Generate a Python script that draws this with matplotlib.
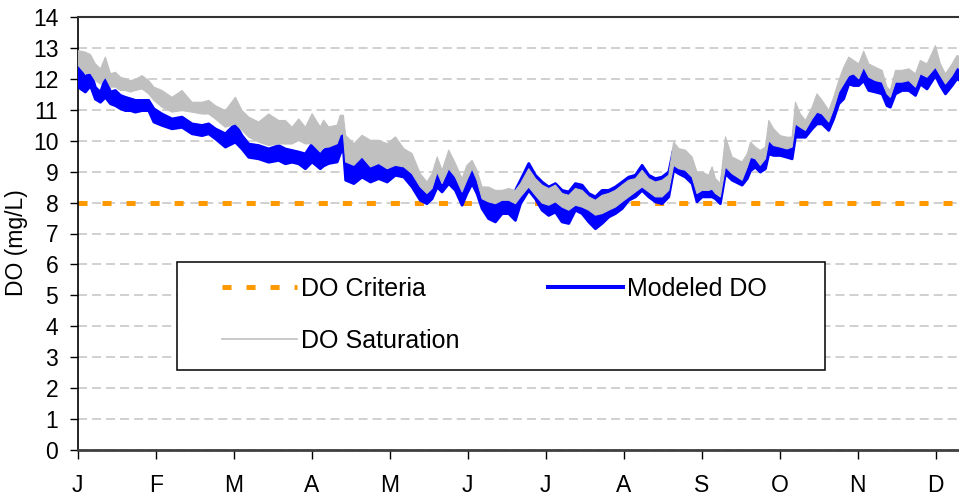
import matplotlib
matplotlib.use("Agg")
import matplotlib.pyplot as plt
from matplotlib.lines import Line2D
from matplotlib.patches import Rectangle

plt.rcParams['font.family'] = ['Liberation Sans', 'DejaVu Sans']
plt.rcParams['lines.scale_dashes'] = False

months = ['J', 'F', 'M', 'A', 'M', 'J', 'J', 'A', 'S', 'O', 'N', 'D']
do_criteria = 8.0

# day of year (band = daily low / high)
day = [0, 2.8, 4.8, 6.7, 8.7, 10.6, 12.6, 14.5, 16.5, 18.4, 20.4, 22.3, 24.9, 27.5,
       29.5, 32.7, 36.6, 40.5, 44.4, 48.3, 50.9, 53.5, 57.4, 61.3, 63.9, 66.5, 70.4,
       74.3, 78.2, 80.8, 83.4, 86.0, 88.6, 91.2, 94.4, 95.7, 97.7, 101.0, 102.2, 103.4,
       104.3, 107.5, 110.7, 114.0, 117.2, 120.5, 123.7, 127.0, 130.2, 133.4, 136.0,
       138.0, 140.0, 141.9, 144.5, 147.1, 149.7, 151.6, 153.6, 155.5, 157.5, 160.0,
       162.7, 165.3, 167.9, 170.5, 172.5, 175.7, 178.3, 180.9, 183.5, 186.1, 188.7,
       191.3, 193.9, 196.5, 199.1, 201.7, 204.3, 206.9, 209.5, 212.1, 214.7, 217.3,
       219.9, 222.5, 225.1, 227.7, 230.3, 232.2, 234.2, 236.8, 239.4, 241.3, 243.3,
       245.9, 247.2, 248.5, 250.4, 252.4, 255.0, 258.9, 260.9, 262.2, 264.1, 266.0,
       268.0, 269.3, 271.2, 273.8, 276.4, 278.4, 279.7, 281.6, 283.6, 286.2, 288.1,
       290.1, 292.7, 294.6, 296.6, 298.5, 300.5, 302.4, 304.4, 306.3, 308.3, 310.9,
       313.5, 315.4, 316.7, 318.7, 321.3, 323.9, 326.5, 328.4, 331.0, 334.3, 336.2,
       338.2, 340.8, 342.7, 345.0]

modeled_lo = [11.75, 11.59, 11.79, 11.36, 11.26, 11.42, 11.21, 11.15, 11.05, 10.99, 10.99,
              10.94, 10.99, 10.99, 10.62, 10.51, 10.40, 10.45, 10.24, 10.18, 10.24, 10.08,
              9.81, 9.97, 9.75, 9.48, 9.43, 9.32, 9.38, 9.27, 9.32, 9.27, 9.11, 9.33, 9.11,
              9.20, 9.28, 9.33, 9.60, 9.76, 8.74, 8.63, 8.84, 8.68, 8.79, 8.68, 8.90, 8.84,
              8.52, 8.09, 7.98, 8.14, 8.52, 8.36, 8.63, 8.41, 7.93, 8.31, 8.63, 8.31, 7.82,
              7.50, 7.39, 7.66, 7.66, 7.44, 7.98, 8.41, 8.14, 7.77, 7.60, 7.71, 7.39, 7.34,
              7.77, 7.66, 7.39, 7.17, 7.34, 7.55, 7.66, 7.82, 8.09, 8.20, 8.41, 8.20, 8.04,
              7.98, 8.20, 9.06, 8.95, 8.84, 8.63, 8.04, 8.20, 8.20, 8.20, 8.14, 7.98, 8.95,
              8.74, 8.58, 8.79, 9.05, 9.16, 9.00, 9.11, 9.59, 9.54, 9.54, 9.48, 9.43, 10.13,
              10.13, 10.13, 10.40, 10.56, 10.56, 10.35, 10.72, 11.21, 11.37, 11.85, 11.80,
              11.80, 11.96, 11.64, 11.59, 11.53, 11.15, 11.10, 11.53, 11.64, 11.64, 11.48,
              11.85, 11.69, 12.12, 11.80, 11.53, 11.80, 12.02, 11.90]

modeled_hi = [12.50, 12.05, 12.28, 11.74, 11.58, 12.05, 11.59, 11.64, 11.48, 11.42, 11.37,
              11.32, 11.32, 11.32, 11.05, 10.88, 10.72, 10.78, 10.56, 10.51, 10.56, 10.40,
              10.24, 10.56, 10.18, 9.91, 9.86, 9.75, 9.86, 9.75, 9.70, 9.65, 9.59, 9.92,
              9.65, 9.70, 9.81, 9.92, 10.20, 10.35, 9.33, 9.22, 9.55, 9.17, 9.28, 9.11, 9.22,
              9.17, 8.95, 8.52, 8.31, 8.47, 9.00, 8.63, 9.11, 8.84, 8.36, 8.74, 9.11, 8.74,
              8.20, 8.09, 7.98, 8.09, 8.09, 8.41, 8.74, 9.28, 8.90, 8.68, 8.52, 8.63, 8.41,
              8.36, 8.63, 8.58, 8.31, 8.20, 8.41, 8.41, 8.52, 8.68, 8.84, 8.90, 9.22, 8.90,
              8.79, 8.84, 9.01, 9.76, 9.55, 9.55, 9.28, 8.85, 8.84, 8.68, 8.70, 8.58, 8.41,
              9.55, 9.33, 9.17, 9.32, 9.65, 9.48, 9.27, 9.48, 10.13, 9.91, 9.81, 9.75, 9.86,
              10.67, 10.45, 10.35, 10.78, 10.99, 10.94, 10.67, 11.05, 11.64, 11.80, 12.12,
              12.12, 11.96, 12.50, 12.12, 11.96, 11.91, 11.53, 11.42, 11.91, 11.91, 11.96,
              11.75, 12.23, 12.07, 12.55, 12.18, 11.85, 12.18, 12.45, 12.30]

sat_lo = [12.45, 12.18, 12.20, 11.96, 11.85, 12.07, 11.75, 11.75, 11.64, 11.64, 11.59,
          11.64, 11.69, 11.53, 11.32, 11.10, 10.94, 10.99, 10.94, 10.88, 10.88, 10.72,
          10.45, 10.56, 10.35, 10.13, 9.97, 9.86, 9.91, 9.91, 9.91, 10.02, 9.91, 9.92,
          9.65, 9.80, 9.81, 9.92, 10.20, 10.25, 9.33, 9.22, 9.49, 9.17, 9.28, 9.11, 9.22,
          9.17, 8.95, 8.52, 8.31, 8.47, 9.00, 8.63, 9.11, 8.84, 8.36, 8.74, 9.11, 8.74,
          8.14, 8.04, 7.98, 8.09, 8.09, 7.98, 8.20, 8.52, 8.25, 8.00, 7.93, 8.04, 7.87,
          7.77, 7.93, 7.87, 7.77, 7.61, 7.66, 7.77, 7.87, 8.04, 8.20, 8.36, 8.52, 8.36,
          8.20, 8.20, 8.41, 9.22, 9.11, 9.06, 8.84, 8.31, 8.41, 8.41, 8.45, 8.31, 8.20,
          9.17, 8.95, 8.74, 9.16, 9.48, 9.43, 9.22, 9.43, 10.02, 9.86, 9.81, 9.75, 9.81,
          10.56, 10.45, 10.35, 10.72, 10.94, 10.88, 10.62, 11.05, 11.59, 11.85, 12.12,
          12.18, 12.02, 12.39, 12.07, 11.96, 11.91, 11.53, 11.42, 11.91, 11.91, 11.96,
          11.75, 12.18, 12.07, 12.39, 12.12, 11.85, 12.12, 12.39, 12.30]

sat_hi = [12.93, 12.88, 12.80, 12.50, 12.34, 12.72, 12.18, 12.23, 12.07, 12.02, 11.96,
          12.00, 12.12, 11.96, 11.75, 11.64, 11.42, 11.64, 11.26, 11.26, 11.32, 11.15,
          10.99, 11.42, 10.99, 10.78, 10.62, 10.88, 10.67, 10.67, 10.45, 10.72, 10.45,
          10.89, 10.46, 10.68, 10.46, 10.52, 10.84, 10.84, 10.19, 9.92, 10.19, 10.03,
          10.03, 9.92, 10.14, 9.76, 9.60, 8.95, 8.68, 8.95, 9.49, 9.06, 9.71, 9.28, 8.79,
          9.22, 9.38, 9.06, 8.52, 8.52, 8.41, 8.41, 8.47, 8.41, 8.63, 9.11, 8.79, 8.58,
          8.47, 8.58, 8.31, 8.25, 8.47, 8.41, 8.20, 8.09, 8.25, 8.31, 8.41, 8.58, 8.74,
          8.79, 9.06, 8.79, 8.68, 8.74, 8.90, 9.98, 9.76, 9.71, 9.49, 9.00, 9.00, 8.90,
          9.17, 8.79, 8.63, 10.14, 9.49, 9.33, 9.59, 9.97, 9.81, 9.70, 9.81, 10.67, 10.40,
          10.18, 10.13, 10.13, 11.26, 10.88, 10.67, 11.10, 11.53, 11.32, 10.99, 11.42,
          11.96, 12.39, 12.72, 12.61, 12.50, 12.91, 12.50, 12.39, 12.29, 11.75, 11.64,
          12.29, 12.29, 12.34, 12.18, 12.61, 12.50, 13.09, 12.50, 12.18, 12.50, 12.77,
          12.70]

fig = plt.figure(figsize=(9.59, 4.99), dpi=100)
# axis runs a full year; the picture is cut off on the right
ax = fig.add_axes([77.7 / 959, 49 / 499, 936 / 959, 433 / 499])

ax.axhline(do_criteria, color='#FF9900', lw=3.6, dashes=(6.5, 10.8), zorder=2.5)
ax.fill_between(day, modeled_lo, modeled_hi, color='#0000FF', lw=2.0, zorder=3)
ax.fill_between(day, sat_lo, sat_hi, color='#C0C0C0', lw=0.8, zorder=4)

ax.set_xlim(0, 365)
ax.set_ylim(0, 14)
ax.set_yticks(range(15))
ax.set_xticks([i * 365 / 12 for i in range(12)])
ax.set_xticklabels(months)
ax.grid(axis='y', color='#C8C8C8', lw=1.2, linestyle=(0, (6.5, 3.6)), zorder=1)
ax.set_axisbelow(True)
ax.tick_params(axis='x', length=6.5, width=1, pad=10.5, labelsize=16.5)
ax.tick_params(axis='y', length=6, width=1, pad=8, labelsize=16.5)

ax.spines['right'].set_visible(False)
ax.spines['top'].set_color('#333333')
ax.spines['top'].set_linewidth(1.5)
ax.spines['bottom'].set_color('#404040')
ax.spines['bottom'].set_linewidth(2)
ax.spines['left'].set_color('black')
ax.spines['left'].set_linewidth(1.2)

fig.text(17 / 959, 1 - 243 / 499, 'DO (mg/L)', rotation=90, ha='center', va='center',
         fontsize=16.5)

# legend box drawn separately so its padding matches
ax.add_patch(Rectangle((177 / 959, 129 / 499), 648 / 959, 108 / 499,
                       transform=fig.transFigure, facecolor='white', edgecolor='black',
                       lw=1.1, zorder=5))
h_crit = Line2D([], [], color='#FF9900', lw=3.6, dashes=(6.5, 10.8))
h_sat = Line2D([], [], color='#C0C0C0', lw=1.2)
h_mod = Line2D([], [], color='#0000FF', lw=2.9)
leg = ax.legend([h_crit, h_sat, h_mod], ['DO Criteria', 'DO Saturation', 'Modeled DO'],
                ncol=2, loc='upper left', bbox_to_anchor=(222 / 959, (499 - 277) / 499),
                bbox_transform=fig.transFigure, frameon=False, fontsize=18,
                handlelength=3.0, handletextpad=0.15, columnspacing=3.55,
                labelspacing=1.11, borderpad=0, borderaxespad=0)
leg.set_zorder(6)

fig.savefig('out.png', dpi=100)
